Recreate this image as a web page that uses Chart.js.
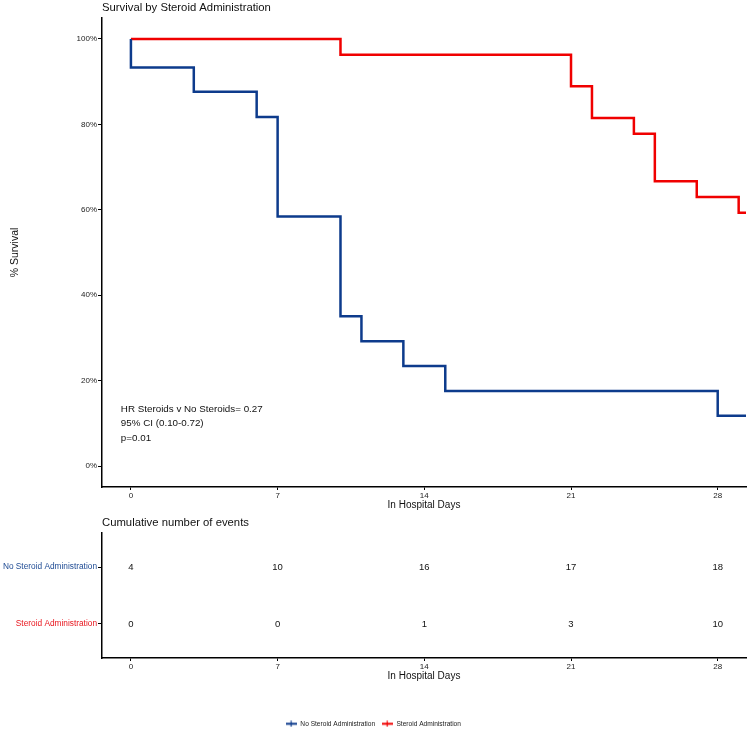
<!DOCTYPE html>
<html>
<head>
<meta charset="utf-8">
<title>Survival by Steroid Administration</title>
<script src="https://cdn.jsdelivr.net/npm/chart.js@4.4.1/dist/chart.umd.min.js"></script>
<style>
  body { margin: 0; background: #fff; }
  #wrap { position: relative; width: 750px; height: 731px; }
  #survivalChart { position: absolute; left: 0; top: 0; }
  #eventsChart { position: absolute; left: 0; top: 515px; }
</style>
</head>
<body>
<div id="wrap">
  <canvas id="survivalChart" width="750" height="731"></canvas>
  <canvas id="eventsChart" width="750" height="167"></canvas>
</div>
<script>
const FONT = "'Liberation Sans', Arial, sans-serif";
const BLUE = '#0d3b8c';
const RED = '#f00000';

// axis ticks
const dayTicks = [0, 7, 14, 21, 28];
const percentTicks = [0, 20, 40, 60, 80, 100];

// Kaplan-Meier steps (day, % surviving)
const noSteroidDays = [0, 0, 3, 6, 7, 10, 11, 13, 15, 28, 29.35];
const noSteroidSurv = [100, 93.3, 87.6, 81.7, 58.4, 35.1, 29.2, 23.4, 17.6, 11.8, 11.8];
const steroidDays = [0, 10, 21, 22, 24, 25, 27, 29, 29.35];
const steroidSurv = [100, 96.3, 88.9, 81.5, 77.8, 66.7, 63.0, 59.3, 59.3];

// risk table
const groups = ['No Steroid Administration', 'Steroid Administration'];
const groupColors = ['#1d4a93', '#e8141c'];
const noSteroidEvents = [4, 10, 16, 17, 18];
const steroidEvents = [0, 0, 1, 3, 10];

const statsLines = ['HR Steroids v No Steroids= 0.27', '95% CI (0.10-0.72)', 'p=0.01'];
const statsAnchor = { day: -0.48, pct: 13.3 };

function legendMark(color) {
  const c = document.createElement('canvas');
  c.width = 11;
  c.height = 7;
  const g = c.getContext('2d');
  g.strokeStyle = color;
  g.lineWidth = 2;
  g.beginPath(); g.moveTo(0, 3.5); g.lineTo(11, 3.5); g.stroke();
  g.lineWidth = 1.2;
  g.beginPath(); g.moveTo(5.5, 0.5); g.lineTo(5.5, 6.5); g.stroke();
  return c;
}

function dayAxis(height, titlePad) {
  return {
    type: 'linear',
    min: -1.38,
    max: 29.35,
    afterBuildTicks: s => { s.ticks = dayTicks.map(v => ({ value: v })); },
    afterFit: s => { s.height = height; },
    ticks: { font: { family: FONT, size: 8 }, color: '#222', padding: 1, maxRotation: 0 },
    grid: { drawOnChartArea: false, drawTicks: true, tickLength: 3, color: '#000' },
    border: { display: true, color: '#000', width: 1.5 },
    title: {
      display: true,
      text: 'In Hospital Days',
      font: { family: FONT, size: 10 },
      color: '#111',
      padding: { top: 0, bottom: titlePad }
    }
  };
}

function panelTitle(text) {
  return {
    display: true,
    text: text,
    align: 'start',
    fullSize: false,
    font: { family: FONT, size: 11.3, weight: 'normal' },
    color: '#111',
    padding: { top: 1.2, bottom: 3.2 }
  };
}

const statsText = {
  id: 'statsText',
  afterDatasetsDraw(chart) {
    const { ctx, scales: { x, y } } = chart;
    const left = x.getPixelForValue(statsAnchor.day);
    const top = y.getPixelForValue(statsAnchor.pct);
    ctx.save();
    ctx.font = '9.8px ' + FONT;
    ctx.fillStyle = '#111';
    ctx.textBaseline = 'middle';
    statsLines.forEach((t, i) => ctx.fillText(t, left, top + i * 14.5));
    ctx.restore();
  }
};

const eventCounts = {
  id: 'eventCounts',
  afterDatasetsDraw(chart) {
    const ctx = chart.ctx;
    ctx.save();
    ctx.font = '9.5px ' + FONT;
    ctx.fillStyle = '#111';
    ctx.textAlign = 'center';
    ctx.textBaseline = 'middle';
    chart.data.datasets.forEach((ds, di) => {
      chart.getDatasetMeta(di).data.forEach((pt, i) => {
        ctx.fillText(String(ds.data[i].n), pt.x, pt.y);
      });
    });
    ctx.restore();
  }
};

new Chart(document.getElementById('survivalChart'), {
  type: 'line',
  data: {
    datasets: [
      {
        label: groups[0],
        data: noSteroidDays.map((d, i) => ({ x: d, y: noSteroidSurv[i] })),
        borderColor: BLUE,
        backgroundColor: BLUE,
        borderWidth: 2.5,
        stepped: 'before',
        pointRadius: 0,
        pointStyle: legendMark(BLUE),
        fill: false
      },
      {
        label: groups[1],
        data: steroidDays.map((d, i) => ({ x: d, y: steroidSurv[i] })),
        borderColor: RED,
        backgroundColor: RED,
        borderWidth: 2.5,
        stepped: 'before',
        pointRadius: 0,
        pointStyle: legendMark(RED),
        fill: false
      }
    ]
  },
  options: {
    responsive: false,
    animation: false,
    layout: { padding: { left: 0, right: 4, top: 0, bottom: 2.5 } },
    plugins: {
      title: panelTitle('Survival by Steroid Administration'),
      legend: {
        position: 'bottom',
        maxHeight: 14,
        labels: {
          usePointStyle: true,
          pointStyleWidth: 12,
          font: { family: FONT, size: 6.6 },
          color: '#222',
          padding: 6
        }
      },
      tooltip: { enabled: false }
    },
    scales: {
      x: dayAxis(227.5, 203.5),
      y: {
        min: -4.9,
        max: 104.9,
        afterBuildTicks: s => { s.ticks = percentTicks.map(v => ({ value: v })); },
        afterFit: s => { s.width = 102; },
        ticks: { callback: v => v + '%', font: { family: FONT, size: 8 }, color: '#222', padding: 1 },
        grid: { drawOnChartArea: false, drawTicks: true, tickLength: 4, color: '#000' },
        border: { display: true, color: '#000', width: 1.5 },
        title: {
          display: true,
          text: '% Survival',
          font: { family: FONT, size: 10.5 },
          color: '#111',
          padding: { top: 8.7, bottom: 0 }
        }
      }
    }
  },
  plugins: [statsText]
});

new Chart(document.getElementById('eventsChart'), {
  type: 'scatter',
  data: {
    datasets: [
      { label: groups[0], data: dayTicks.map((d, i) => ({ x: d, y: 1, n: noSteroidEvents[i] })), pointRadius: 0 },
      { label: groups[1], data: dayTicks.map((d, i) => ({ x: d, y: 2, n: steroidEvents[i] })), pointRadius: 0 }
    ]
  },
  options: {
    responsive: false,
    animation: false,
    layout: { padding: { left: 0, right: 4, top: 0, bottom: 0 } },
    plugins: {
      title: panelTitle('Cumulative number of events'),
      legend: { display: false },
      tooltip: { enabled: false }
    },
    scales: {
      x: dayAxis(24, 0),
      y: {
        min: 0.4,
        max: 2.6,
        reverse: true,
        afterBuildTicks: s => { s.ticks = [{ value: 1 }, { value: 2 }]; },
        afterFit: s => { s.width = 102; },
        ticks: {
          callback: v => groups[v - 1],
          color: c => groupColors[c.index],
          font: { family: FONT, size: 8.3 },
          padding: 1
        },
        grid: { drawOnChartArea: false, drawTicks: true, tickLength: 4, color: '#000' },
        border: { display: true, color: '#000', width: 1.5 }
      }
    }
  },
  plugins: [eventCounts]
});
</script>
</body>
</html>
